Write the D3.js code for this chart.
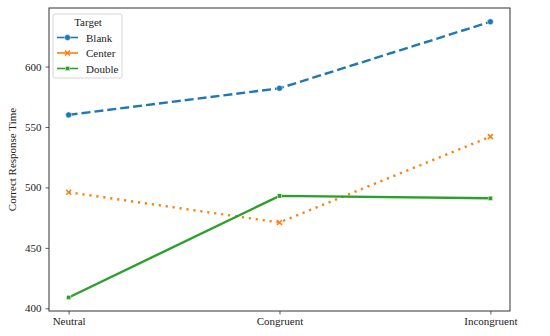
<!DOCTYPE html>
<html>
<head>
<meta charset="utf-8">
<script src="https://cdn.jsdelivr.net/npm/d3@7"></script>
<style>
  body { margin: 0; background: #fff; }
  svg text { font-family: "Liberation Serif", serif; fill: #222; }
</style>
</head>
<body>
<div id="chart"></div>
<script>
// conditions on the x axis
var conditions = ["Neutral", "Congruent", "Incongruent"];
// one array per target type (correct response time)
var blank  = [560, 582, 637];
var center = [496, 471, 542];
var dbl    = [409, 493, 491];
var seriesNames = ["Blank", "Center", "Double"];
var yTicks = [400, 450, 500, 550, 600];

var colors = {Blank: "#1f77b4", Center: "#ff7f0e", Double: "#2ca02c"};
var dashes = {Blank: "9,4", Center: "2.2,4.8", Double: null};

var W = 550, H = 336;
var margin = {top: 8, right: 40, bottom: 25, left: 49};
var width = W - margin.left - margin.right,
    height = H - margin.top - margin.bottom;

var svg = d3.select("#chart").append("svg")
    .attr("width", W).attr("height", H);
var g = svg.append("g")
    .attr("transform", "translate(" + margin.left + "," + margin.top + ")");

var x = d3.scalePoint().domain(conditions).range([0, width]).padding(0.093);
var y = d3.scaleLinear().domain([397.8, 648.4]).range([height, 0]);

var series = [
  {name: "Blank", values: blank},
  {name: "Center", values: center},
  {name: "Double", values: dbl}
];

// axes
var xAxis = g.append("g")
    .attr("transform", "translate(0," + height + ")")
    .call(d3.axisBottom(x).tickSize(3.5).tickPadding(3));
var yAxis = g.append("g")
    .call(d3.axisLeft(y).tickValues(yTicks).tickSize(3.5).tickPadding(4));
[xAxis, yAxis].forEach(function(a) {
  a.select(".domain").remove();
  a.selectAll(".tick line").attr("stroke", "#333").attr("stroke-width", 0.8);
  a.selectAll(".tick text").style("font-size", "11px").attr("fill", "#222")
    .style("font-family", "Liberation Serif, serif");
});

// frame
g.append("rect").attr("x", 0).attr("y", 0)
  .attr("width", width).attr("height", height)
  .attr("fill", "none").attr("stroke", "#333").attr("stroke-width", 1);

var line = d3.line()
    .x(function(d, i) { return x(conditions[i]); })
    .y(function(d) { return y(d); });

function drawMarker(sel, name, cx, cy) {
  if (name === "Blank") {
    sel.append("circle").attr("cx", cx).attr("cy", cy).attr("r", 3)
      .attr("fill", colors[name]).attr("stroke", "#fff").attr("stroke-width", 0.5);
  } else if (name === "Center") {
    var s = 2.5;
    sel.append("path")
      .attr("d", "M" + (cx - s) + "," + (cy - s) + "L" + (cx + s) + "," + (cy + s) +
                 "M" + (cx - s) + "," + (cy + s) + "L" + (cx + s) + "," + (cy - s))
      .attr("stroke", colors[name]).attr("stroke-width", 1.6).attr("fill", "none");
  } else {
    sel.append("rect").attr("x", cx - 2.2).attr("y", cy - 2.2)
      .attr("width", 4.4).attr("height", 4.4)
      .attr("fill", colors[name]).attr("stroke", "#fff").attr("stroke-width", 0.5);
  }
}

series.forEach(function(s) {
  g.append("path").datum(s.values)
    .attr("d", line)
    .attr("fill", "none")
    .attr("stroke", colors[s.name])
    .attr("stroke-width", 2.4)
    .attr("stroke-dasharray", dashes[s.name]);
  s.values.forEach(function(v, i) {
    drawMarker(g, s.name, x(conditions[i]), y(v));
  });
});

// y label
svg.append("text")
  .attr("transform", "translate(16," + (margin.top + height / 2) + ") rotate(-90)")
  .attr("text-anchor", "middle")
  .style("font-size", "11px")
  .text("Correct Response Time");

// legend
var lg = g.append("g").attr("transform", "translate(4,6)");
lg.append("rect").attr("width", 69).attr("height", 64).attr("rx", 2)
  .attr("fill", "#fff").attr("fill-opacity", 0.8)
  .attr("stroke", "#ccc").attr("stroke-width", 0.8);
lg.append("text").attr("x", 35).attr("y", 12).attr("text-anchor", "middle")
  .style("font-size", "11px").text("Target");
seriesNames.forEach(function(n, i) {
  var yy = 23.5 + i * 15.5;
  lg.append("line").attr("x1", 4).attr("x2", 25).attr("y1", yy).attr("y2", yy)
    .attr("stroke", colors[n]).attr("stroke-width", 1.6);
  drawMarker(lg, n, 14.5, yy);
  lg.append("text").attr("x", 33).attr("y", yy + 4)
    .style("font-size", "11px").text(n);
});
</script>
</body>
</html>
